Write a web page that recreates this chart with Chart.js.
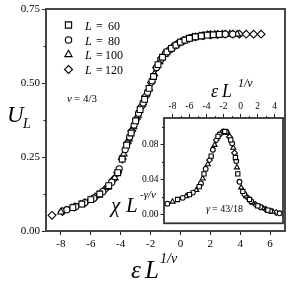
<!DOCTYPE html>
<html><head><meta charset="utf-8">
<script src="https://cdn.jsdelivr.net/npm/chart.js@4"></script>
<style>
html,body{margin:0;padding:0;background:#fff;}
#wrap{position:relative;width:294px;height:282px;overflow:hidden;}
#main{position:absolute;left:0;top:0;width:294px;height:282px;}
#inset{position:absolute;left:120px;top:96px;width:170px;height:135px;}
</style></head><body>
<div id="wrap">
<canvas id="main" width="294" height="282"></canvas>
<canvas id="inset" width="170" height="135"></canvas>
</div>
<script>
// ---------- data ----------
const seriesLabels = ['60', '80', '100', '120'];
const pointStyles = ['rect', 'circle', 'triangle', 'rectRot'];

// main panel: U_L vs eps L^(1/nu)
const mainX60  = [-7.2,-6.6,-6.0,-5.4,-4.8,-4.2,-3.9,-3.6,-3.3,-3.0,-2.7,-2.4,-2.1,-1.8,-1.5,-1.2,-0.9,-0.6,-0.3,0.0,0.3,0.6,1.0,1.4,1.8,2.2,2.6];
const mainU60  = [0.079,0.091,0.106,0.125,0.153,0.197,0.243,0.290,0.331,0.372,0.410,0.445,0.482,0.522,0.562,0.587,0.605,0.617,0.628,0.638,0.645,0.651,0.656,0.659,0.662,0.663,0.664];
const mainX80  = [-7.6,-7.0,-6.4,-5.8,-5.2,-4.6,-4.1,-3.7,-3.4,-3.1,-2.8,-2.5,-2.2,-1.9,-1.6,-1.3,-1.0,-0.7,-0.4,-0.1,0.3,0.7,1.1,1.5,2.0,2.5,3.0,3.5];
const mainU80  = [0.072,0.083,0.096,0.111,0.133,0.165,0.210,0.275,0.318,0.358,0.398,0.433,0.469,0.508,0.552,0.580,0.600,0.613,0.625,0.635,0.645,0.652,0.657,0.660,0.663,0.664,0.665,0.665];
const mainX100 = [-8.0,-7.3,-6.7,-6.1,-5.5,-4.9,-4.4,-3.8,-3.45,-3.15,-2.85,-2.5,-2.1,-1.75,-1.4,-1.05,-0.7,-0.35,0.0,0.4,0.8,1.3,1.8,2.3,2.8,3.3,3.8];
const mainU100 = [0.064,0.077,0.089,0.103,0.121,0.148,0.180,0.260,0.311,0.352,0.391,0.433,0.482,0.530,0.572,0.597,0.613,0.627,0.638,0.647,0.654,0.658,0.662,0.664,0.665,0.665,0.665];
const mainX120 = [-8.6,-7.9,-7.1,-6.4,-5.7,-5.0,-4.5,-4.2,-3.9,-3.55,-3.25,-2.95,-2.6,-2.3,-1.95,-1.6,-1.25,-0.9,-0.55,-0.2,0.2,0.6,1.0,1.5,2.0,2.5,3.0,3.5,3.95,4.4,4.9,5.4];
const mainU120 = [0.053,0.066,0.081,0.096,0.115,0.143,0.173,0.198,0.243,0.297,0.338,0.378,0.421,0.457,0.502,0.552,0.584,0.604,0.619,0.632,0.643,0.651,0.656,0.660,0.663,0.664,0.665,0.665,0.665,0.665,0.665,0.665];

// inset: chi L^(-gamma/nu) vs eps L^(1/nu)
const insX60  = [-7.4,-6.0,-4.85,-4.3,-3.45,-2.65,-1.85,-1.15,-0.6,-0.32,0.27,1.06,2.04,3.22];
const insC60  = [0.0171,0.0226,0.0318,0.0464,0.0665,0.0891,0.0946,0.0850,0.0650,0.0464,0.0263,0.0171,0.0099,0.0050];
const insX80  = [-8.6,-6.8,-5.6,-4.65,-4.1,-3.25,-2.45,-1.65,-0.98,-0.5,-0.12,0.45,1.25,2.35,3.5,4.6];
const insC80  = [0.0124,0.0190,0.0250,0.0354,0.0520,0.0738,0.0915,0.0940,0.0811,0.0610,0.0373,0.0235,0.0152,0.0085,0.0040,0.0014];
const insX100 = [-8.0,-6.4,-5.2,-4.45,-3.85,-3.05,-2.25,-1.5,-0.85,-0.42,0.08,0.67,1.45,2.63,3.81];
const insC100 = [0.0146,0.0208,0.0280,0.0410,0.0573,0.0793,0.0932,0.0932,0.0760,0.0537,0.0307,0.0208,0.0135,0.0072,0.0033];
const insX120 = [-3.65,-2.85,-2.05,-1.3,-0.7,0.85,1.75,2.95,4.2];
const insC120 = [0.0620,0.0848,0.0942,0.0884,0.0702,0.0190,0.0115,0.0060,0.0022];

// ticks
const mainXTicks = [-8,-6,-4,-2,0,2,4,6];
const mainYTicks = [0,0.25,0.5,0.75];
const mainYMinor = [0.125,0.375,0.625];
const insXTicks = [-8,-6,-4,-2,0,2,4];
const insXMinor = [-7,-5,-3,-1,1,3];
const insYTicks = [0,0.04,0.08];
const insYMinor = [0.02,0.06,0.10];

// ---------- helpers ----------
const FONT = 'Liberation Serif';
Chart.defaults.font.family = FONT;
Chart.defaults.color = '#000';

function pts(xs, ys) { return xs.map((x, i) => ({x: x, y: ys[i]})); }

function ds(label, xs, ys, style, r) {
  return {
    label: label, data: pts(xs, ys), showLine: false,
    pointStyle: style, pointRadius: r, pointHoverRadius: r,
    pointBorderColor: '#000', pointBackgroundColor: '#fff', pointBorderWidth: 1.1
  };
}

function marker(ctx, style, x, y, r) {
  ctx.save();
  ctx.beginPath();
  if (style === 'rect') {
    const s = Math.SQRT1_2 * r;
    ctx.rect(x - s, y - s, 2 * s, 2 * s);
  } else if (style === 'circle') {
    ctx.arc(x, y, r, 0, Math.PI * 2);
  } else if (style === 'triangle') {
    for (let k = 0; k < 3; k++) {
      const a = k * 2 * Math.PI / 3;
      const px = x + Math.sin(a) * r, py = y - Math.cos(a) * r;
      if (k === 0) ctx.moveTo(px, py); else ctx.lineTo(px, py);
    }
    ctx.closePath();
  } else {
    ctx.moveTo(x, y - r); ctx.lineTo(x + r, y); ctx.lineTo(x, y + r); ctx.lineTo(x - r, y); ctx.closePath();
  }
  ctx.fillStyle = '#fff'; ctx.fill();
  ctx.strokeStyle = '#000'; ctx.lineWidth = 1.1; ctx.stroke();
  ctx.restore();
}

function minorTicks(chart, xVals, yVals, len, xTop) {
  const ctx = chart.ctx, a = chart.chartArea;
  ctx.save();
  ctx.strokeStyle = '#222'; ctx.lineWidth = 1;
  ctx.beginPath();
  const sx = chart.scales.x, sy = chart.scales.y;
  xVals.forEach(v => {
    const p = Math.round(sx.getPixelForValue(v)) + 0.5;
    if (xTop) { ctx.moveTo(p, a.top); ctx.lineTo(p, a.top - len); }
    else { ctx.moveTo(p, a.bottom); ctx.lineTo(p, a.bottom + len); }
  });
  yVals.forEach(v => {
    const p = Math.round(sy.getPixelForValue(v)) + 0.5;
    ctx.moveTo(a.left, p); ctx.lineTo(a.left - len, p);
  });
  ctx.stroke();
  ctx.restore();
}

function frame(chart) {
  const ctx = chart.ctx, a = chart.chartArea;
  ctx.save();
  ctx.strokeStyle = '#333'; ctx.lineWidth = 1.8;
  ctx.strokeRect(a.left, a.top, a.right - a.left, a.bottom - a.top);
  ctx.restore();
}

function txt(ctx, s, x, y, size, italic, align) {
  ctx.font = (italic ? 'italic ' : '') + size + 'px "' + FONT + '"';
  ctx.textAlign = align || 'left';
  ctx.textBaseline = 'alphabetic';
  ctx.fillText(s, x, y);
}

// ---------- main chart ----------
const mainDecor = {
  id: 'mainDecor',
  beforeDatasetsDraw(chart) {
    frame(chart);
    minorTicks(chart, [], mainYMinor, 2.5, false);
  },
  afterDraw(chart) {
    const ctx = chart.ctx;
    ctx.save();
    ctx.fillStyle = '#000';
    // y title U_L
    txt(ctx, 'U', 7, 122, 23, true);
    txt(ctx, 'L', 23, 128, 14, true);
    // x title eps L^(1/nu)
    txt(ctx, 'ε', 131, 278, 25, true);
    txt(ctx, 'L', 145, 278, 25, true);
    txt(ctx, '1/ν', 160, 263, 14, true);
    // legend
    const rows = [25, 40, 54.5, 69.5];
    const rr = [4.4, 3.2, 4.2, 4.0];
    rows.forEach((y, i) => {
      marker(ctx, pointStyles[i], 68.5, y, rr[i]);
      ctx.fillStyle = '#000';
      txt(ctx, 'L', 85, y + 4.5, 12, true);
      txt(ctx, '=', 96, y + 4.5, 12, false);
      txt(ctx, seriesLabels[i], 114, y + 4.5, 12, false, 'center');
    });
    // nu
    txt(ctx, 'ν', 67, 102, 11, true);
    txt(ctx, '= 4/3', 74, 102, 11, false);
    // inset titles
    txt(ctx, 'ε', 211, 97, 18, true);
    txt(ctx, 'L', 222, 97, 18, true);
    txt(ctx, '1/ν', 238, 87, 12, true);
    txt(ctx, 'χ', 111, 212, 21, true);
    txt(ctx, 'L', 126, 212, 21, true);
    txt(ctx, '-γ/ν', 140, 198, 11, true);
    ctx.restore();
  }
};

new Chart(document.getElementById('main'), {
  type: 'scatter',
  data: {
    datasets: [
      ds('L = 60', mainX60, mainU60, 'rect', 4.1),
      ds('L = 80', mainX80, mainU80, 'circle', 3.1),
      ds('L = 100', mainX100, mainU100, 'triangle', 3.9),
      ds('L = 120', mainX120, mainU120, 'rectRot', 3.9)
    ]
  },
  options: {
    responsive: false, animation: false,
    layout: {padding: {left: 0, top: 9, right: 9, bottom: 0}},
    plugins: {legend: {display: false}, tooltip: {enabled: false}},
    scales: {
      x: {
        type: 'linear', min: -9, max: 7,
        afterBuildTicks: s => { s.ticks = mainXTicks.map(v => ({value: v})); },
        afterFit: s => { s.height = 51; },
        ticks: {font: {size: 11}, color: '#000', padding: 3, maxRotation: 0, callback: v => String(v)},
        grid: {drawOnChartArea: false, drawTicks: true, tickLength: 4, tickColor: '#222', tickWidth: 1},
        border: {display: false}
      },
      y: {
        type: 'linear', min: 0, max: 0.75,
        afterBuildTicks: s => { s.ticks = mainYTicks.map(v => ({value: v})); },
        afterFit: s => { s.width = 46; },
        ticks: {font: {size: 11}, color: '#000', padding: 2, callback: v => v.toFixed(2)},
        grid: {drawOnChartArea: false, drawTicks: true, tickLength: 4, tickColor: '#222', tickWidth: 1},
        border: {display: false}
      }
    }
  },
  plugins: [mainDecor]
});

// ---------- inset chart ----------
const insetDecor = {
  id: 'insetDecor',
  beforeDraw(chart) {
    const a = chart.chartArea, ctx = chart.ctx;
    ctx.save(); ctx.fillStyle = '#fff';
    ctx.fillRect(a.left, a.top, a.right - a.left, a.bottom - a.top);
    ctx.restore();
  },
  beforeDatasetsDraw(chart) {
    frame(chart);
    minorTicks(chart, insXMinor, insYMinor, 2, true);
  },
  afterDraw(chart) {
    const ctx = chart.ctx;
    ctx.save(); ctx.fillStyle = '#000';
    txt(ctx, 'γ', 86, 116, 10, true);
    txt(ctx, '= 43/18', 92, 116, 10, false);
    ctx.restore();
  }
};

new Chart(document.getElementById('inset'), {
  type: 'scatter',
  data: {
    datasets: [
      ds('L = 60', insX60, insC60, 'rect', 3.0),
      ds('L = 80', insX80, insC80, 'circle', 2.4),
      ds('L = 100', insX100, insC100, 'triangle', 2.9),
      ds('L = 120', insX120, insC120, 'rectRot', 2.9)
    ]
  },
  options: {
    responsive: false, animation: false,
    layout: {padding: {left: 0, top: 0, right: 7, bottom: 5}},
    plugins: {legend: {display: false}, tooltip: {enabled: false}},
    scales: {
      x: {
        type: 'linear', position: 'top', min: -9, max: 5,
        afterBuildTicks: s => { s.ticks = insXTicks.map(v => ({value: v})); },
        afterFit: s => { s.height = 22; },
        ticks: {font: {size: 9.5}, color: '#000', padding: 2, maxRotation: 0, callback: v => String(v)},
        grid: {drawOnChartArea: false, drawTicks: true, tickLength: 4, tickColor: '#222', tickWidth: 1},
        border: {display: false}
      },
      y: {
        type: 'linear', min: -0.01, max: 0.11,
        afterBuildTicks: s => { s.ticks = insYTicks.map(v => ({value: v})); },
        afterFit: s => { s.width = 44; },
        ticks: {font: {size: 9.5}, color: '#000', padding: 2, callback: v => v.toFixed(2)},
        grid: {drawOnChartArea: false, drawTicks: true, tickLength: 3.5, tickColor: '#222', tickWidth: 1},
        border: {display: false}
      }
    }
  },
  plugins: [insetDecor]
});
</script>
</body></html>
